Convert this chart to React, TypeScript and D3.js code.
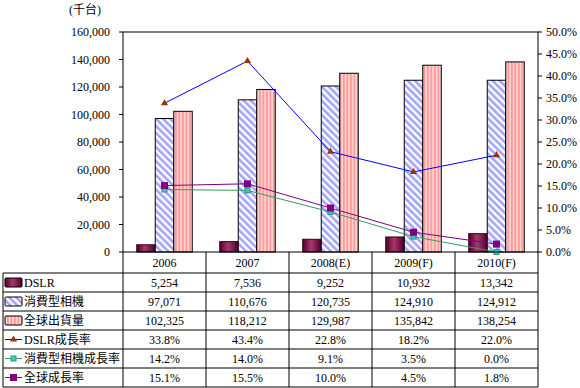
import React, { useEffect } from 'react';
import * as d3 from 'd3';

const YEARS = ['2006', '2007', '2008(E)', '2009(F)', '2010(F)'];
const DSLR = [5254, 7536, 9252, 10932, 13342];
const CONSUMER = [97071, 110676, 120735, 124910, 124912];
const GLOBAL = [102325, 118212, 129987, 135842, 138254];
const DSLR_GROWTH = [33.8, 43.4, 22.8, 18.2, 22.0];
const CONSUMER_GROWTH = [14.2, 14.0, 9.1, 3.5, 0.0];
const GLOBAL_GROWTH = [15.1, 15.5, 10.0, 4.5, 1.8];
const LEFT_TICKS = [0, 20000, 40000, 60000, 80000, 100000, 120000, 140000, 160000];
const RIGHT_TICKS = [0, 5, 10, 15, 20, 25, 30, 35, 40, 45, 50];

const FONT = '"Liberation Serif", "Times New Roman", serif';
const CJK = '"Liberation Serif", "Noto Sans CJK TC", serif';

const left = 123, right = 538, top = 32, bottom = 252;
const tableLeft = 3, rowTop = 273, rowH = 19;

const fmtNum = d3.format(',');
const fmtPct = (v: number) => v.toFixed(1) + '%';

export default function App() {
  useEffect(() => { document.body.style.margin = '0'; }, []);

  const x = d3.scaleBand<string>().domain(YEARS).range([left, right]);
  const cw = x.bandwidth();
  const yL = d3.scaleLinear().domain([0, 160000]).range([bottom, top]);
  const yR = d3.scaleLinear().domain([0, 50]).range([bottom, top]);
  const inner = d3.scaleBand<string>().domain(['dslr', 'consumer', 'global'])
    .range([-27.75, 27.75]);
  const bw = inner.bandwidth();
  const cx = (i: number) => (x(YEARS[i]) as number) + cw / 2;

  const line = (vals: number[]) =>
    d3.line<number>().x((_, i) => cx(i)).y(v => yR(v))(vals) as string;

  const barSeries = [
    { key: 'dslr', vals: DSLR, fill: 'url(#gDslr)' },
    { key: 'consumer', vals: CONSUMER, fill: 'url(#pBlue)' },
    { key: 'global', vals: GLOBAL, fill: 'url(#pPink)' },
  ];

  const tri = d3.symbol().type(d3.symbolTriangle).size(22)() as string;

  const rows = [
    { label: 'DSLR', vals: DSLR.map(fmtNum), key: 'bar', fill: 'url(#gDslr)' },
    { label: '消費型相機', vals: CONSUMER.map(fmtNum), key: 'bar', fill: 'url(#pBlue)' },
    { label: '全球出貨量', vals: GLOBAL.map(fmtNum), key: 'bar', fill: 'url(#pPink)' },
    { label: 'DSLR成長率', vals: DSLR_GROWTH.map(fmtPct), key: 'tri' },
    { label: '消費型相機成長率', vals: CONSUMER_GROWTH.map(fmtPct), key: 'sqS' },
    { label: '全球成長率', vals: GLOBAL_GROWTH.map(fmtPct), key: 'sqL' },
  ];

  const marker = (kind: string, px: number, py: number, k: string) => {
    if (kind === 'tri')
      return <path key={k} d={tri} transform={`translate(${px},${py})`} fill="#993300" />;
    if (kind === 'sqS')
      return <rect key={k} x={px - 2.5} y={py - 2.5} width={5} height={5} fill="#33cccc" stroke="#339966" strokeWidth={1} />;
    return <rect key={k} x={px - 3.5} y={py - 3.5} width={7} height={7} fill="#800080" />;
  };

  const lineSeries = [
    { vals: DSLR_GROWTH, color: '#0000ff', kind: 'tri' },
    { vals: CONSUMER_GROWTH, color: '#339966', kind: 'sqS' },
    { vals: GLOBAL_GROWTH, color: '#800080', kind: 'sqL' },
  ];

  return (
    <svg width={580} height={388} style={{ display: 'block', background: '#fff' }}>
      <defs>
        <linearGradient id="gDslr" x1="0" x2="1" y1="0" y2="0">
          <stop offset="0" stopColor="#4d0026" />
          <stop offset="0.45" stopColor="#a8386e" />
          <stop offset="1" stopColor="#4d0026" />
        </linearGradient>
        <pattern id="pBlue" width="5" height="5" patternUnits="userSpaceOnUse" patternTransform="rotate(-45)">
          <rect width="5" height="5" fill="#ffffff" />
          <rect width="2.6" height="5" fill="#a4a4f6" />
        </pattern>
        <pattern id="pPink" width="3.5" height="3.5" patternUnits="userSpaceOnUse">
          <rect width="3.5" height="3.5" fill="#ffd2d2" />
          <rect width="1.7" height="3.5" fill="#ff9999" />
        </pattern>
      </defs>

      {/* unit label */}
      <text x={85} y={14} fontFamily={CJK} fontSize={12} textAnchor="middle">(千台)</text>

      {/* bars */}
      {barSeries.map(s => s.vals.map((v, i) => (
        <rect key={s.key + i}
          x={(x(YEARS[i]) as number) + cw / 2 + (inner(s.key) as number)}
          y={yL(v)} width={bw} height={bottom - yL(v)}
          fill={s.fill} stroke={s.key === 'dslr' ? '#330019' : '#000'} strokeWidth={1} />
      )))}

      {/* lines */}
      {lineSeries.map((s, j) => (
        <g key={'l' + j}>
          <path d={line(s.vals)} fill="none" stroke={s.color} strokeWidth={1} />
          {s.vals.map((v, i) => marker(s.kind, cx(i), yR(v), 'm' + j + i))}
        </g>
      ))}

      {/* plot frame */}
      <rect x={left} y={top} width={right - left} height={bottom - top} fill="none" stroke="#000" strokeWidth={1} />

      {/* left axis */}
      {LEFT_TICKS.map(t => (
        <g key={'lt' + t}>
          <line x1={left - 4} x2={left} y1={yL(t)} y2={yL(t)} stroke="#000" />
          <text x={110} y={yL(t)} dy="0.35em" textAnchor="end" fontFamily={FONT} fontSize={12}>{fmtNum(t)}</text>
        </g>
      ))}

      {/* right axis */}
      {RIGHT_TICKS.map(t => (
        <g key={'rt' + t}>
          <line x1={right} x2={right + 4} y1={yR(t)} y2={yR(t)} stroke="#000" />
          <text x={546} y={yR(t)} dy="0.35em" textAnchor="start" fontFamily={FONT} fontSize={12}>{t.toFixed(1) + '%'}</text>
        </g>
      ))}

      {/* header row (categories) */}
      {YEARS.map((yr, i) => (
        <text key={'h' + i} x={cx(i)} y={(bottom + rowTop) / 2} dy="0.35em" textAnchor="middle" fontFamily={FONT} fontSize={12}>{yr}</text>
      ))}

      {/* data table */}
      {rows.map((r, ri) => {
        const y0 = rowTop + ri * rowH;
        const ym = y0 + rowH / 2;
        return (
          <g key={'r' + ri}>
            {r.key === 'bar'
              ? <rect x={5} y={ym - 4.5} width={17} height={9} rx={1} fill={r.fill} stroke="#000" strokeWidth={1} />
              : <g>
                  <line x1={5} x2={22} y1={ym} y2={ym} stroke={lineSeries[ri - 3].color} />
                  {marker(r.key, 13.5, ym, 'k' + ri)}
                </g>}
            <text x={24} y={ym} dy="0.35em" fontFamily={CJK} fontSize={12}>{r.label}</text>
            {r.vals.map((v, i) => (
              <text key={'c' + i} x={cx(i)} y={ym} dy="0.35em" textAnchor="middle" fontFamily={FONT} fontSize={12}>{v}</text>
            ))}
          </g>
        );
      })}

      {/* table grid */}
      {d3.range(rows.length + 1).map(i => (
        <line key={'hl' + i} x1={tableLeft} x2={right} y1={rowTop + i * rowH} y2={rowTop + i * rowH} stroke="#000" />
      ))}
      <line x1={tableLeft} x2={tableLeft} y1={rowTop} y2={rowTop + rows.length * rowH} stroke="#000" />
      {YEARS.map((yr, i) => (
        <line key={'vl' + i} x1={x(yr) as number} x2={x(yr) as number} y1={bottom} y2={rowTop + rows.length * rowH} stroke="#000" />
      ))}
      <line x1={right} x2={right} y1={bottom} y2={rowTop + rows.length * rowH} stroke="#000" />
    </svg>
  );
}
